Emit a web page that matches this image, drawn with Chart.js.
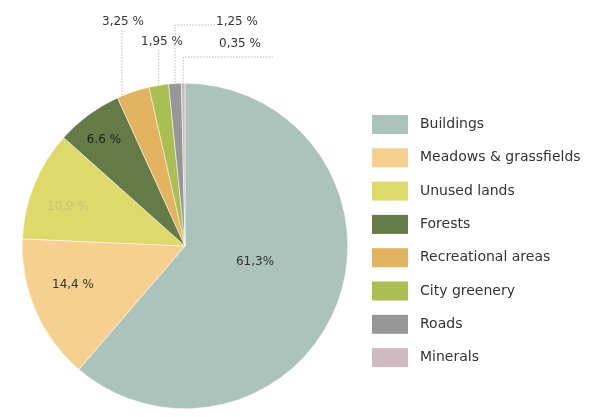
<!DOCTYPE html>
<html>
<head>
<meta charset="utf-8">
<script src="https://cdn.jsdelivr.net/npm/chart.js@4.4.1/dist/chart.umd.min.js"></script>
<style>
  html, body { margin: 0; padding: 0; background: #fff; }
  #wrap { width: 604px; height: 417px; }
</style>
</head>
<body>
<div id="wrap"><canvas id="chart" width="604" height="417"></canvas></div>
<script>
const categories = ['Buildings', 'Meadows & grassfields', 'Unused lands', 'Forests', 'Recreational areas', 'City greenery', 'Roads', 'Minerals']
const shares = [61.3, 14.4, 10.9, 6.6, 3.25, 1.95, 1.25, 0.35]
const shareLabels = ['61,3%', '14,4 %', '10,9 %', '6.6 %', '3,25 %', '1,95 %', '1,25 %', '0,35 %']
const colors = ['#abc3bb', '#f6d08e', '#dfd96b', '#647b48', '#e2b360', '#abbe52', '#979797', '#d0bac2']

const FONT = '"DejaVu Sans", sans-serif'

// where the text goes; inner labels sit in the slice, small slices get callouts
const labelStyle = [
    { inside: true, dx: 70, dy: 16, color: '#333' },
    { inside: true, dx: -112, dy: 39, color: '#333' },
    { inside: true, dx: -117, dy: -39, color: '#c9c47c' },
    { inside: true, dx: -81, dy: -106, color: '#222' },
    { tx: 123, ty: 22, lineTop: 30, lineX: 122 },
    { tx: 162, ty: 42, lineTop: 50 },
    { tx: 237, ty: 22, elbow: 25, elbowTo: 216 },
    { tx: 240, ty: 44, elbow: 57, elbowTo: 273 }
]

const labelPlugin = {
    id: 'sliceLabels',
    afterDatasetsDraw(chart) {
        const ctx = chart.ctx
        const arcs = chart.getDatasetMeta(0).data
        ctx.save()
        ctx.font = '12px ' + FONT
        ctx.textAlign = 'center'
        ctx.textBaseline = 'middle'
        arcs.forEach((arc, i) => {
            const st = labelStyle[i]
            const mid = (arc.startAngle + arc.endAngle) / 2
            if (st.inside) {
                ctx.fillStyle = st.color
                ctx.fillText(shareLabels[i], arc.x + st.dx, arc.y + st.dy)
                return
            }
            let px = arc.x + Math.cos(mid) * arc.outerRadius
            let py = arc.y + Math.sin(mid) * arc.outerRadius
            if (st.lineX !== undefined) {
                px = st.lineX
                py = arc.y - Math.sqrt(arc.outerRadius ** 2 - (px - arc.x) ** 2)
            }
            ctx.strokeStyle = '#aaa'
            ctx.lineWidth = 0.8
            ctx.setLineDash([1.5, 1.5])
            ctx.beginPath()
            ctx.moveTo(px, py + 2)
            if (st.elbow !== undefined) {
                ctx.lineTo(px, st.elbow)
                ctx.lineTo(st.elbowTo, st.elbow)
            } else {
                ctx.lineTo(px, st.lineTop)
            }
            ctx.stroke()
            ctx.setLineDash([])
            ctx.fillStyle = '#333'
            ctx.fillText(shareLabels[i], st.tx, st.ty)
        })
        ctx.restore()
    }
}

const legendPlugin = {
    id: 'sideLegend',
    afterDraw(chart) {
        const ctx = chart.ctx
        ctx.save()
        ctx.font = '14px ' + FONT
        ctx.textBaseline = 'middle'
        categories.forEach((name, i) => {
            const y = 124.5 + i * 33.3
            ctx.fillStyle = colors[i]
            ctx.fillRect(372, y - 9.5, 36, 19)
            ctx.fillStyle = '#333'
            ctx.fillText(name, 420, y)
        })
        ctx.restore()
    }
}

new Chart(document.getElementById('chart'), {
    type: 'pie',
    data: {
        labels: categories,
        datasets: [{
            data: shares,
            backgroundColor: colors,
            borderColor: '#fff',
            borderWidth: 0.5
        }]
    },
    options: {
        responsive: false,
        animation: false,
        layout: { padding: { left: 22, top: 83, right: 256, bottom: 8 } },
        plugins: {
            legend: { display: false },
            tooltip: { enabled: false }
        }
    },
    plugins: [labelPlugin, legendPlugin]
})
</script>
</body>
</html>
